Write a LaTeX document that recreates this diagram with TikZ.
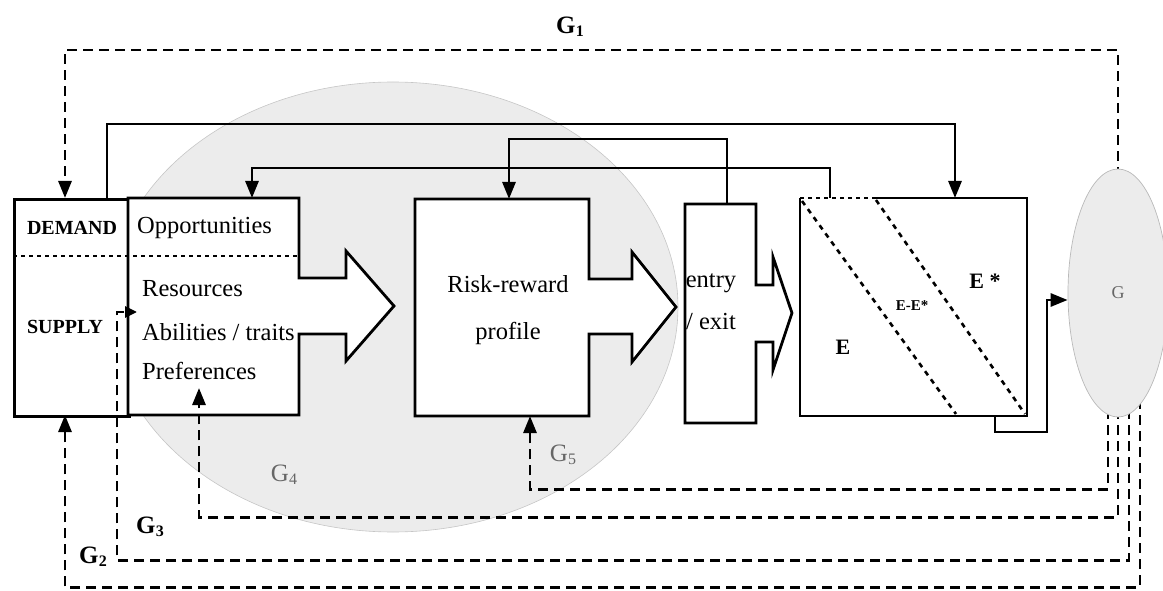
\documentclass[tikz,border=0pt]{standalone}
\usepackage{fontspec}
\setmainfont{Liberation Serif}
\usetikzlibrary{shapes.geometric,arrows.meta,calc}
\pgfdeclarelayer{back}
\pgfdeclarelayer{front}
\pgfsetlayers{back,main,front}
\definecolor{lightshade}{gray}{0.925}
\definecolor{glabel}{gray}{0.4}
\newcommand{\gsubl}[1]{G\kern0.3pt\raisebox{-3pt}{\fontsize{16}{16}\selectfont #1}}
\tikzset{
  outline/.style={line width=2.8pt, fill=white, line join=miter},
  conn/.style={line width=2.8pt, -{Triangle[length=17pt,width=13pt]}},
  fb/.style={conn, dash pattern=on 10pt off 6pt},
  fbsmall/.style={line width=2.8pt, dash pattern=on 10pt off 6pt, -{Triangle[length=12pt,width=11pt]}},
  dotsep/.style={line width=2.8pt, dash pattern=on 4pt off 4pt},
  diag/.style={line width=2.6pt, dash pattern=on 5pt off 5pt},
  lbl/.style={inner sep=0pt, font=\fontsize{24.5}{29}\selectfont},
  capl/.style={inner sep=0pt, font=\fontsize{20}{24}\selectfont\bfseries},
  elbl/.style={inner sep=0pt, font=\fontsize{22}{26}\selectfont\bfseries},
  glab/.style={inner sep=0pt, font=\fontsize{25}{30}\selectfont\bfseries},
  glabg/.style={inner sep=0pt, font=\fontsize{25}{30}\selectfont, text=glabel},
}
\begin{document}
\begin{tikzpicture}[x=1pt,y=-1pt]
\useasboundingbox (0,0) rectangle (1163,591);
% large shaded region
\begin{pgfonlayer}{back}
\fill[lightshade] (393,307) ellipse [x radius=285, y radius=225];
\draw[gray!45, line width=0.6pt] (393,307) ellipse [x radius=285, y radius=225];
\end{pgfonlayer}
% G ellipse
\begin{pgfonlayer}{front}
\node[ellipse, draw=gray!55, line width=0.7pt, fill=lightshade, minimum width=100, minimum height=248,
      inner sep=0pt, text=glabel, font=\fontsize{18}{18}\selectfont] (G) at (1118,293) {G};
\end{pgfonlayer}

% DEMAND / SUPPLY box
\node[draw, outline, minimum width=115, minimum height=217, anchor=north west, inner sep=0pt] (DS) at (13,198) {};
% Opportunities / Resources box with arrow
\draw[outline] (128,198) -- (299,198) -- (299,278) -- (346,278) -- (346,251) -- (394,306)
   -- (346,361) -- (346,334) -- (299,334) -- (299,415) -- (128,415) -- cycle;
\draw[dotsep] (13,256) -- (299,256);
% Risk-reward box with arrow
\draw[outline] (415,199) -- (589,199) -- (589,279) -- (632,279) -- (632,252) -- (676,307)
   -- (632,362) -- (632,334) -- (589,334) -- (589,416) -- (415,416) -- cycle;
% entry / exit box with arrow
\draw[outline] (685,204) -- (756,204) -- (756,285) -- (773,285) -- (773,257) -- (792,313)
   -- (773,370) -- (773,342) -- (756,342) -- (756,423) -- (685,423) -- cycle;
% E box
\fill[white] (800,198) rectangle (1027,416);
\draw[line width=2.8pt] (875,198) -- (1027,198) -- (1027,416) -- (957,416);
\draw[line width=2.8pt] (957,416) -- (800,416) -- (800,198);
\draw[dotsep] (800,198) -- (875,198);
\draw[dotsep] (957,416) -- (1027,416);
\draw[diag] (802,201) -- (956,414);
\draw[diag] (876,200) -- (1025,414);

% connector points
\coordinate (DSd) at (65,198);
\coordinate (DSu) at (107,198);
\coordinate (DSb) at (65,415);
\coordinate (ORtop) at (252,198);
\coordinate (ORin) at (199,388);
\coordinate (ORl) at (137,312);
\coordinate (G3c) at (117,312);
\coordinate (RRtop) at (509,199);
\coordinate (RRbot) at (530,416);
\coordinate (EXtop) at (727,204);
\coordinate (Etop) at (955,198);
\coordinate (Eleft) at (830,198);
\coordinate (Ebot) at (995,416);

% texts
\node[capl] (dem) at (72,228) {DEMAND};
\node[capl] (sup) at (65,327) {SUPPLY};
\node[lbl, anchor=west] (opp) at (137,228) {Opportunities};
\node[lbl, anchor=west] (res) at (142,289) {Resources};
\node[lbl, anchor=west] (abi) at (142,332) {Abilities / traits};
\node[lbl, anchor=west] (pref) at (142,371) {Preferences};
\node[lbl, align=center, font=\fontsize{24.5}{47}\selectfont] (rr) at (508,310) {Risk-reward\\profile};
\node[lbl, align=center, font=\fontsize{24.5}{42}\selectfont] (ex) at (711,302) {entry\\/ exit};
\node[elbl] (lE) at (843,347) {E};
\node[elbl] (lEs) at (985,281) {E *};
\node[inner sep=0pt, font=\fontsize{15}{18}\selectfont\bfseries] (lEE) at (912,306) {E-E*};

\node[glab] (g1) at (570,27) {\gsubl{1}};
\node[glab] (g2) at (93,557) {\gsubl{2}};
\node[glab] (g3) at (150,527) {\gsubl{3}};
\node[glabg] (g4) at (284,475) {\gsubl{4}};
\node[glabg] (g5) at (563,455) {\gsubl{5}};

% solid connectors
\draw[conn] (DSu) -- ++(0,-74) -| (Etop);
\draw[conn] (Eleft) -- ++(0,-30) -| (ORtop);
\draw[conn] (EXtop) -- ++(0,-65) -| (RRtop);
\draw[conn] (Ebot) -- ++(0,16) -- ++(52,0) |- ($(G.west)+(0,7)$);

% feedback connectors
\draw[fb] ([yshift=-8pt]G.north) -- (1118,50) -| (DSd);
\draw[fb] ([xshift=-10pt,yshift=8pt]G.south) -- ++(0,80) -| (RRbot);
\draw[fb] ([yshift=8pt]G.south) -- ++(0,108) -| (ORin);
\draw[fbsmall] ([xshift=11pt,yshift=8pt]G.south) -- ++(0,151) -| (G3c) -- (ORl);
\draw[fb] ([xshift=22pt,yshift=18pt]G.south) -- ++(0,188) -| (DSb);
\end{tikzpicture}
\end{document}
